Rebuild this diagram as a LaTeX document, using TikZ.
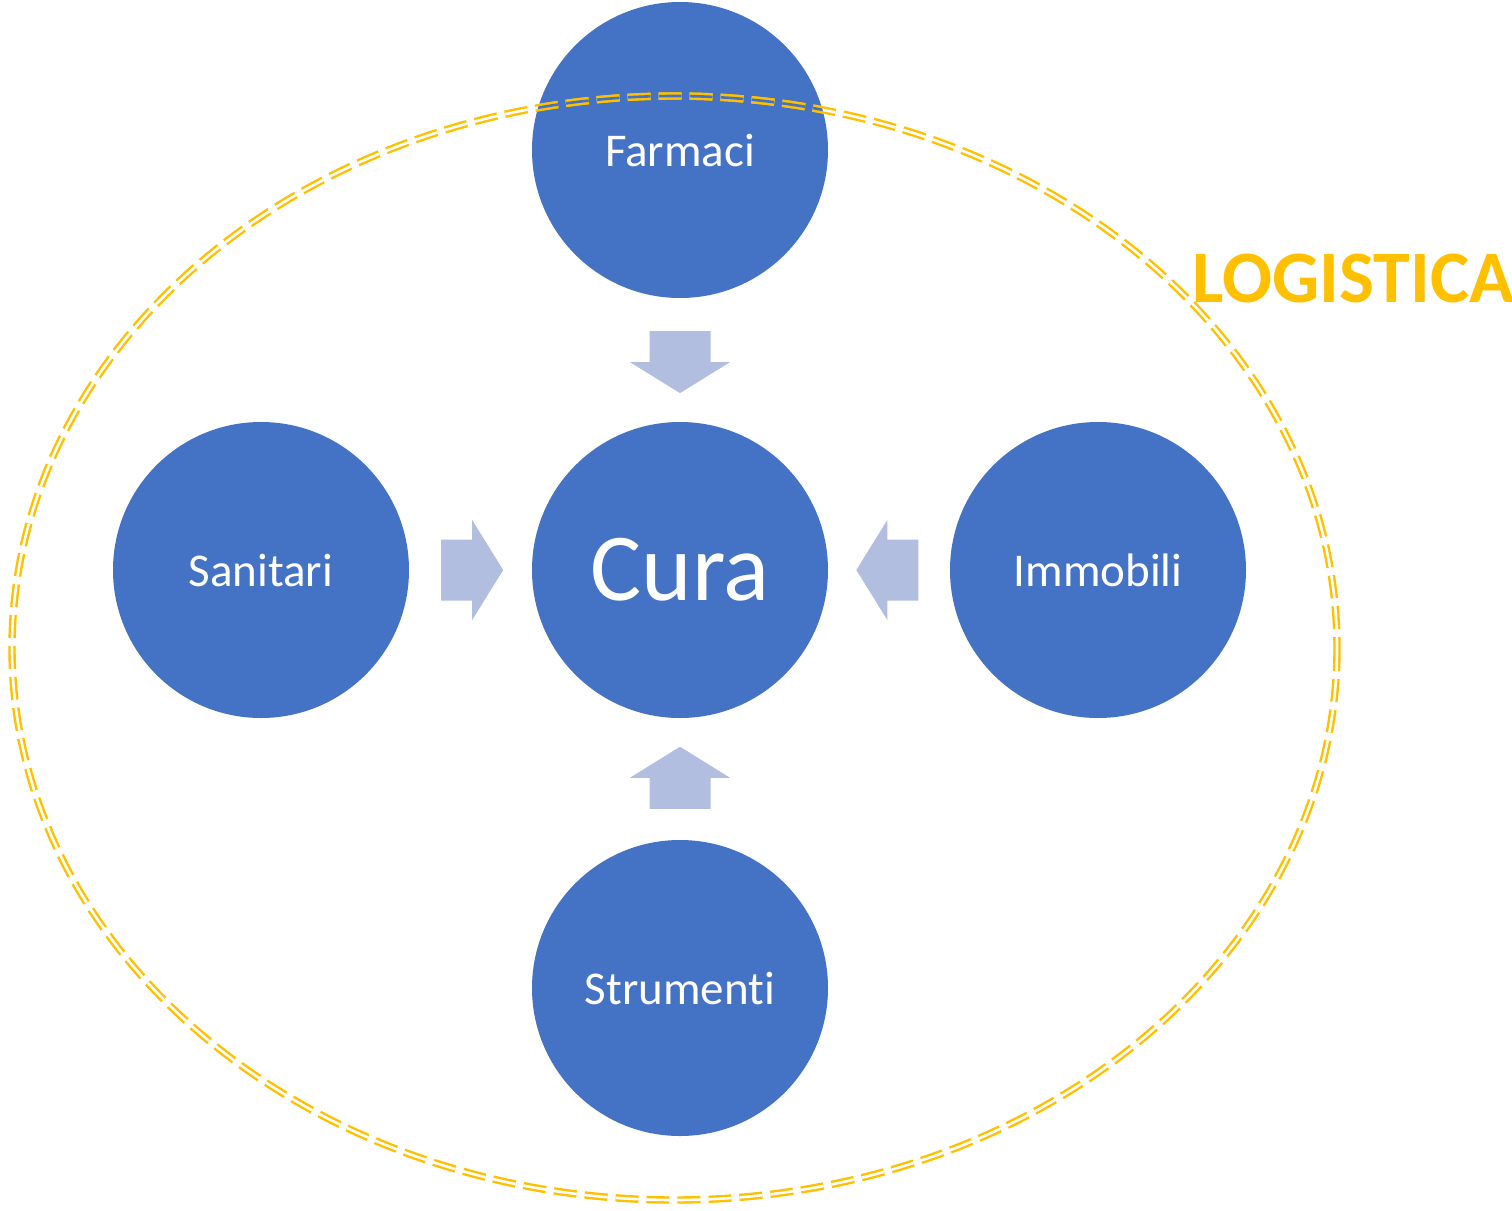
\documentclass[tikz,border=0pt]{standalone}
\usepackage{fontspec}
\setmainfont{Carlito}[Ligatures=NoCommon]
\usetikzlibrary{calc}
\definecolor{discblue}{HTML}{4472C4}
\definecolor{arrowblue}{HTML}{B2BEE0}
\definecolor{logigold}{HTML}{FFC000}
\tikzset{
  disc/.style={circle,fill=discblue,draw=none,minimum size=148pt,inner sep=0pt,
    text=white,font=\fontsize{23.5}{28}\selectfont},
  ring/.style={draw=logigold,line width=1.2pt,double distance=1.3pt,
    dash pattern=on 11.5pt off 4pt},
  % block arrow pointing along +x, centred on the origin
  feedarrow/.pic={
    \fill[arrowblue] (-31,-30.5) -- (0,-30.5) -- (0,-50) -- (31,0)
      -- (0,50) -- (0,30.5) -- (-31,30.5) -- cycle;
  },
}
\begin{document}
\begin{tikzpicture}[x=0.5pt,y=-0.5pt]
\useasboundingbox (0,0) rectangle (1512,1211);
\fill[white] (0,0) rectangle (1512,1211);

% the five resources
\node[disc] (farmaci)   at (680,150)  {Farmaci};
\node[disc,font=\fontsize{48}{58}\selectfont] (cura) at (680,570) {Cura};
\node[disc] (sanitari)  at (261,570)  {Sanitari};
\node[disc] (immobili)  at (1098,570) {Immobili};
\node[disc] (strumenti) at (680,988)  {Strumenti};

% block arrows feeding the centre
\coordinate (fa)  at ($(farmaci)!0.505!(cura)$);
\coordinate (sa)  at ($(sanitari)!0.504!(cura)$);
\coordinate (ia)  at ($(immobili)!0.504!(cura)$);
\coordinate (sta) at ($(strumenti)!0.503!(cura)$);
\pic[rotate=-90] at (fa)  {feedarrow};
\pic              at (sa)  {feedarrow};
\pic[rotate=180]  at (ia)  {feedarrow};
\pic[rotate=90]   at (sta) {feedarrow};

% dashed double ring, gap left open over the top disc
\coordinate (ringc) at (674.5,648);
\draw[ring,double=white] (ringc) ellipse [x radius=662.5, y radius=552];
\begin{scope}
  \clip (farmaci) circle (74pt);
  \draw[ring,double=discblue] (ringc) ellipse [x radius=662.5, y radius=552];
\end{scope}

\node[anchor=base west,inner sep=0pt,text=logigold,
  font=\fontsize{37}{44}\selectfont\bfseries] (logistica) at (1192,302) {LOGISTICA};
\end{tikzpicture}
\end{document}
